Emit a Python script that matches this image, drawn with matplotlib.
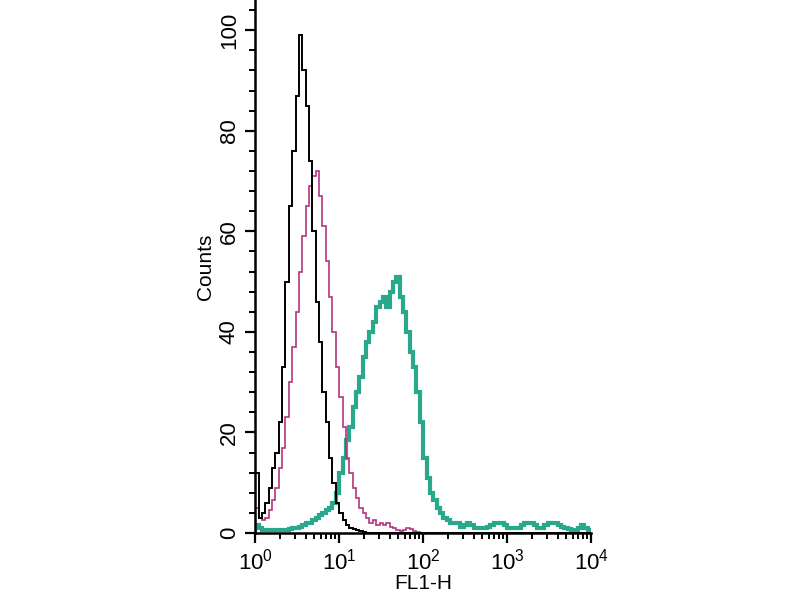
import numpy as np
import matplotlib
matplotlib.use("Agg")
import matplotlib.pyplot as plt
from matplotlib.ticker import LogLocator, FixedLocator, NullFormatter

plt.rcParams['font.family'] = ['Liberation Sans Narrow', 'Liberation Sans', 'DejaVu Sans']

# 100 channels over 4 decades (0.04 log units each)
bin_width = 0.04
n_bins = 100

control = [12, 3, 4, 6, 9, 13, 16, 22, 33, 50,
           65, 76, 87, 99, 92, 85, 74, 60, 46, 38,
           28, 22, 15, 10, 6, 4, 2.5, 1.5, 1, 0.7,
           0.5, 0.3, 0.2]

secondary = [5, 3, 2.5, 3, 4.5, 6.5, 9, 13, 17, 23,
             30, 37, 44, 52, 59, 65, 69, 71, 72, 67,
             61, 54, 47, 40, 33, 27, 21, 15, 12, 9,
             7, 5, 4, 3, 2, 2.5, 1.5, 2, 1.5, 2,
             1.2, 1, 0.5, 0.3, 0.5, 1, 0.8, 0.3, 0.2]

stained = [1.5, 1, 0.5, 0.5, 0.5, 0.5, 0.5, 0.5, 0.5, 0.5,
           0.8, 1, 1, 1.2, 1.5, 2, 2, 2.5, 3, 3.5,
           4, 4.5, 5, 6, 8, 12, 15, 18.5, 21, 25,
           28, 31, 35, 38, 40, 42, 45, 46, 47, 45,
           48, 50, 51, 47, 44, 40, 36, 33, 28, 22,
           15, 11, 8, 6.5, 5, 4, 3, 2.5, 2, 2,
           2, 1.2, 1.5, 2, 1.5, 1, 1, 1, 1, 1.2,
           1.5, 2, 2, 2, 1.5, 1, 1, 1, 1, 1.5,
           2, 2, 2, 1.5, 1, 1, 1.5, 2, 2, 2,
           1.5, 1.2, 1, 0.8, 0.5, 0.5, 1, 1.5, 1, 0.5]


def pad(vals):
    out = np.zeros(n_bins)
    out[:len(vals)] = vals
    return out


edges = 10 ** (np.arange(n_bins + 1) * bin_width)

fig = plt.figure(figsize=(8, 6), dpi=100)
ax = fig.add_axes([0.319, 0.1117, 0.42, 0.8883])

ax.stairs(pad(stained), edges, color="#2aa88c", lw=3.0, baseline=0)
ax.stairs(pad(secondary), edges, color="#b4357e", lw=1.2, baseline=0)
ax.stairs(pad(control), edges, color="black", lw=1.4, baseline=0)

ax.set_xscale("log")
ax.set_xlim(1, 1e4)
ax.set_ylim(0, 106)

for s in ["top", "right"]:
    ax.spines[s].set_visible(False)
for s in ["left", "bottom"]:
    ax.spines[s].set_linewidth(1.8)

ax.set_yticks([0, 20, 40, 60, 80, 100])
ax.yaxis.set_minor_locator(FixedLocator([v for v in range(0, 106, 4) if v % 20]))
ax.xaxis.set_major_locator(LogLocator(base=10, numticks=10))
ax.xaxis.set_minor_locator(LogLocator(base=10, subs=np.arange(2, 10), numticks=20))
ax.xaxis.set_minor_formatter(NullFormatter())

ax.tick_params(which="major", direction="out", length=7, width=1.6, labelsize=16, pad=4)
ax.tick_params(which="minor", direction="out", length=4.5, width=1.4)
for lab in ax.get_yticklabels():
    lab.set_rotation(90)
    lab.set_va("center")

ax.set_xlabel("FL1-H", fontsize=15, labelpad=0)
ax.set_ylabel("Counts", fontsize=15, labelpad=3)

fig.savefig("out.png", dpi=100)
